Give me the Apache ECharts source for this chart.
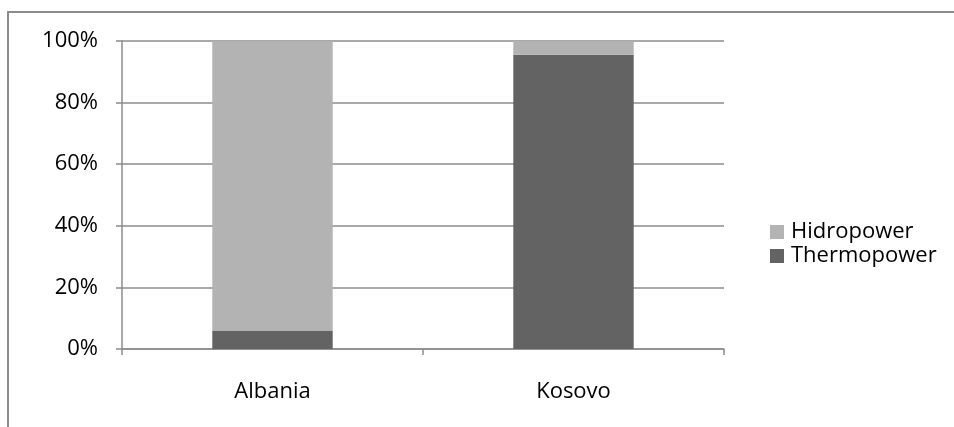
<!DOCTYPE html>
<html>
<head>
  <meta charset="utf-8">
  <script src="https://cdn.jsdelivr.net/npm/echarts@6.0.0/dist/echarts.min.js"></script>
  <style>
    body { margin: 0; padding: 0; background: #fff; }
    #chart { width: 954px; height: 427px; }
  </style>
</head>
<body>
  <div id="chart"></div>
  <script>
    // values, in percent of each country's total
    const countries = ['Albania', 'Kosovo'];
    const thermopower = [6, 95.5];
    const hidropower = [94, 4.5];

    const font = '"Open Sans", sans-serif';
    const lineColor = '#8c8c8c';

    const chart = echarts.init(document.getElementById('chart'));
    chart.setOption({
      animation: false,
      graphic: [{
        type: 'rect',
        shape: { x: 8, y: 12, width: 1000, height: 1000 },
        style: { fill: 'none', stroke: '#8c8c8c', lineWidth: 2 }
      }],
      grid: { left: 122, right: 230, top: 41, bottom: 78 },
      legend: {
        orient: 'vertical',
        left: 765,
        top: 216,
        itemWidth: 14,
        itemHeight: 14,
        itemGap: 2,
        icon: 'rect',
        data: ['Hidropower', 'Thermopower'],
        textStyle: { fontFamily: font, fontSize: 22, color: '#000', padding: [0, 0, 0, 2] }
      },
      xAxis: {
        type: 'category',
        data: countries,
        axisLine: { lineStyle: { color: lineColor, width: 1.5 } },
        axisTick: { show: true, length: 6, lineStyle: { color: lineColor, width: 1.5 } },
        axisLabel: { fontFamily: font, fontSize: 22, color: '#000', margin: 32 }
      },
      yAxis: {
        type: 'value',
        min: 0,
        max: 100,
        interval: 20,
        axisLine: { show: true, lineStyle: { color: lineColor, width: 1.5 } },
        axisTick: { show: true, length: 6, lineStyle: { color: lineColor, width: 1.5 } },
        splitLine: { lineStyle: { color: lineColor, width: 1.5 } },
        axisLabel: { fontFamily: font, fontSize: 22, color: '#000', margin: 24, formatter: '{value}%' }
      },
      series: [
        {
          name: 'Thermopower',
          type: 'bar',
          stack: 'total',
          barWidth: '40%',
          data: thermopower,
          itemStyle: { color: '#636363' }
        },
        {
          name: 'Hidropower',
          type: 'bar',
          stack: 'total',
          barWidth: '40%',
          data: hidropower,
          itemStyle: { color: '#b3b3b3' }
        }
      ]
    });
  </script>
</body>
</html>
